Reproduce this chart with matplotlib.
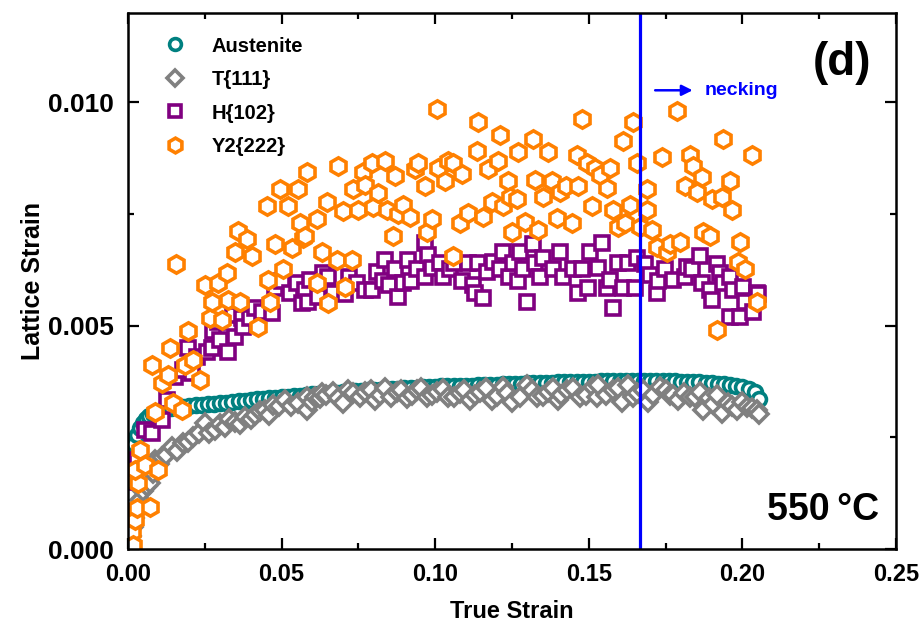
import numpy as np
import matplotlib
matplotlib.use("Agg")
import matplotlib.pyplot as plt
from matplotlib.ticker import MultipleLocator, FormatStrFormatter

plt.rcParams['font.family'] = ['Liberation Sans', 'DejaVu Sans']
plt.rcParams['font.weight'] = 'bold'

# lattice strain values are written in units of 1e-3
austenite_x = [0.0005, 0.001, 0.0015, 0.002, 0.003, 0.004, 0.005, 0.006, 0.007, 0.008, 0.009, 0.010,
               0.012, 0.014, 0.016, 0.018, 0.020, 0.022, 0.024, 0.026, 0.028, 0.030, 0.032, 0.034,
               0.036, 0.038, 0.040, 0.042, 0.044, 0.046, 0.048, 0.050, 0.052, 0.054, 0.056, 0.058,
               0.060, 0.062, 0.064, 0.066, 0.068, 0.070, 0.072, 0.074, 0.076, 0.078, 0.080, 0.082,
               0.084, 0.086, 0.088, 0.090, 0.092, 0.094, 0.096, 0.098, 0.100, 0.102, 0.104, 0.106,
               0.108, 0.110, 0.112, 0.114, 0.116, 0.118, 0.120, 0.122, 0.124, 0.126, 0.128, 0.130,
               0.132, 0.134, 0.136, 0.138, 0.140, 0.142, 0.144, 0.146, 0.148, 0.150, 0.152, 0.154,
               0.156, 0.158, 0.160, 0.162, 0.164, 0.166, 0.168, 0.170, 0.172, 0.174, 0.176, 0.178,
               0.180, 0.182, 0.184, 0.186, 0.188, 0.190, 0.192, 0.194, 0.196, 0.198, 0.200, 0.202,
               0.204, 0.2055]
austenite_y = [1.6, 1.9, 2.15, 2.35, 2.55, 2.7, 2.82, 2.9, 2.97, 3.02, 3.06, 3.1,
               3.13, 3.15, 3.17, 3.19, 3.2, 3.22, 3.22, 3.24, 3.25, 3.27, 3.28, 3.29,
               3.31, 3.32, 3.33, 3.35, 3.36, 3.37, 3.38, 3.4, 3.41, 3.42, 3.43, 3.44,
               3.46, 3.47, 3.48, 3.49, 3.5, 3.51, 3.52, 3.53, 3.54, 3.55, 3.56, 3.56,
               3.57, 3.58, 3.59, 3.6, 3.6, 3.61, 3.62, 3.63, 3.63, 3.64, 3.64, 3.65,
               3.65, 3.66, 3.66, 3.67, 3.67, 3.68, 3.68, 3.69, 3.69, 3.7, 3.7, 3.71,
               3.71, 3.72, 3.72, 3.72, 3.73, 3.73, 3.74, 3.74, 3.75, 3.75, 3.75, 3.76,
               3.76, 3.76, 3.76, 3.77, 3.77, 3.77, 3.77, 3.77, 3.77, 3.76, 3.76, 3.76,
               3.75, 3.75, 3.74, 3.73, 3.72, 3.71, 3.7, 3.69, 3.68, 3.65, 3.62, 3.58,
               3.52, 3.36]

t111_points = [
    (0.0005, 0.1), (0.001, 0.3), (0.0015, 0.5), (0.002, 0.7), (0.003, 0.9), (0.004, 1.1),
    (0.005, 1.3), (0.0062, 1.4), (0.0072, 1.48), (0.008, 1.7), (0.0088, 2.0), (0.010, 1.9),
    (0.011, 2.06), (0.0125, 2.1), (0.0143, 2.29), (0.016, 2.2), (0.0179, 2.38), (0.0195, 2.4),
    (0.0212, 2.51), (0.023, 2.6), (0.025, 2.83), (0.0265, 2.6), (0.0283, 2.67), (0.030, 2.8),
    (0.0316, 2.74), (0.033, 2.9), (0.0348, 2.85), (0.0365, 2.8), (0.0381, 2.96), (0.040, 2.9),
    (0.0413, 3.0), (0.043, 3.1), (0.0446, 3.12), (0.046, 3.0), (0.0472, 3.23), (0.049, 3.2),
    (0.0511, 3.34), (0.053, 3.2), (0.0553, 3.27), (0.0583, 3.12), (0.0583, 3.41), (0.060, 3.3),
    (0.0609, 3.41), (0.0625, 3.39), (0.0632, 3.5), (0.0645, 3.45), (0.0667, 3.52), (0.0685, 3.38),
    (0.070, 3.27), (0.0715, 3.55), (0.0732, 3.5), (0.0755, 3.4), (0.0771, 3.52), (0.079, 3.57),
    (0.0804, 3.34), (0.082, 3.45), (0.0837, 3.61), (0.0855, 3.4), (0.0876, 3.52), (0.089, 3.55),
    (0.0908, 3.39), (0.0925, 3.45), (0.0941, 3.57), (0.0955, 3.6), (0.0973, 3.41), (0.099, 3.45),
    (0.1006, 3.52), (0.1025, 3.58), (0.1042, 3.41), (0.106, 3.4), (0.1081, 3.5), (0.1095, 3.55),
    (0.1113, 3.34), (0.113, 3.45), (0.1146, 3.52), (0.1165, 3.6), (0.1185, 3.34), (0.120, 3.42),
    (0.1221, 3.63), (0.1235, 3.5), (0.125, 3.3), (0.1275, 3.4), (0.1299, 3.68), (0.1315, 3.55),
    (0.1331, 3.41), (0.135, 3.42), (0.1367, 3.52), (0.1385, 3.6), (0.140, 3.34), (0.141, 3.45),
    (0.1429, 3.57), (0.145, 3.6), (0.1471, 3.41), (0.149, 3.45), (0.1514, 3.63), (0.1527, 3.41),
    (0.153, 3.68), (0.1555, 3.45), (0.1579, 3.57), (0.1595, 3.6), (0.1608, 3.3), (0.1628, 3.68),
    (0.1645, 3.4), (0.1657, 3.5), (0.1675, 3.55), (0.1693, 3.3), (0.171, 3.45), (0.1732, 3.63),
    (0.175, 3.55), (0.1764, 3.45), (0.1775, 3.45), (0.179, 3.34), (0.181, 3.5), (0.1829, 3.41),
    (0.1845, 3.4), (0.1862, 3.52), (0.1872, 3.12), (0.189, 3.38), (0.1905, 3.25), (0.1917, 3.45),
    (0.1934, 3.05), (0.1953, 3.27), (0.1965, 3.2), (0.1982, 3.12), (0.200, 3.3), (0.2015, 3.18),
    (0.203, 3.15), (0.2048, 3.12), (0.2055, 3.02),
]

h102_points = [
    (0.0005, 0.6), (0.0013, 1.5), (0.003, 2.0), (0.0055, 2.67), (0.0078, 2.6), (0.011, 2.89),
    (0.0127, 3.34), (0.0153, 3.86), (0.0179, 4.01), (0.0195, 4.51), (0.0208, 3.95), (0.0225, 4.3),
    (0.0257, 4.4), (0.0273, 4.51), (0.0277, 4.87), (0.0293, 5.09), (0.030, 4.69), (0.0326, 4.42),
    (0.0342, 5.25), (0.0348, 4.75), (0.0371, 5.18), (0.0374, 4.96), (0.0397, 5.18), (0.0413, 5.4),
    (0.0436, 5.31), (0.0469, 5.29), (0.0479, 5.85), (0.0501, 5.99), (0.0527, 5.74), (0.055, 5.96),
    (0.0565, 5.5), (0.0576, 5.81), (0.0586, 5.52), (0.0592, 6.03), (0.0618, 5.65), (0.0635, 6.19),
    (0.0651, 6.1), (0.0667, 5.74), (0.0706, 5.7), (0.072, 6.1), (0.0745, 5.96), (0.077, 5.8),
    (0.0794, 5.81), (0.081, 6.2), (0.083, 5.99), (0.0837, 6.48), (0.085, 5.9), (0.0869, 6.26),
    (0.0879, 5.65), (0.0895, 5.96), (0.0911, 6.48), (0.092, 6.0), (0.094, 6.26), (0.0967, 6.86),
    (0.0967, 6.1), (0.0977, 6.59), (0.099, 6.3), (0.1016, 6.41), (0.1025, 6.1), (0.1048, 6.26),
    (0.106, 6.4), (0.1087, 5.99), (0.1107, 6.41), (0.1123, 5.92), (0.113, 5.74), (0.1139, 6.41),
    (0.1156, 5.63), (0.117, 6.2), (0.1188, 6.43), (0.1211, 6.26), (0.1221, 6.64), (0.124, 6.1),
    (0.1253, 6.41), (0.127, 6.0), (0.1276, 6.64), (0.1286, 6.26), (0.1299, 5.52), (0.1318, 6.82),
    (0.1325, 6.41), (0.1341, 6.08), (0.1351, 6.52), (0.1383, 6.26), (0.1406, 6.64), (0.1416, 6.08),
    (0.1449, 6.26), (0.1465, 5.74), (0.1478, 6.26), (0.1497, 5.85), (0.1504, 6.64), (0.153, 6.3),
    (0.1543, 6.86), (0.1559, 5.85), (0.1569, 6.03), (0.1579, 5.4), (0.1595, 6.41), (0.1611, 5.85),
    (0.1628, 6.41), (0.165, 5.85), (0.1657, 6.52), (0.1683, 6.37), (0.1699, 6.14), (0.1722, 5.74),
    (0.1725, 5.99), (0.1748, 6.26), (0.1774, 6.03), (0.1813, 6.1), (0.182, 6.32), (0.1836, 6.26),
    (0.1862, 6.55), (0.1868, 5.96), (0.1895, 5.81), (0.1901, 5.58), (0.1917, 6.37), (0.1927, 6.19),
    (0.1937, 5.96), (0.196, 6.1), (0.196, 5.2), (0.1969, 5.81), (0.1992, 5.2), (0.2002, 5.87),
    (0.2008, 5.52), (0.2035, 5.31), (0.2048, 5.74), (0.205, 5.7),
]

y2_222_points = [
    (0.0013, 0.38), (0.0016, 0.09), (0.0023, 0.65), (0.0029, 0.92), (0.0033, 1.48), (0.0023, 1.77),
    (0.0039, 2.22), (0.0055, 1.88), (0.0072, 0.94), (0.0098, 1.77), (0.0088, 3.07), (0.0078, 4.13),
    (0.011, 3.72), (0.013, 3.9), (0.0137, 4.51), (0.0147, 3.27), (0.0155, 6.37), (0.0176, 3.12),
    (0.0186, 4.13), (0.0195, 4.87), (0.0212, 4.24), (0.0234, 3.79), (0.025, 5.92), (0.0267, 5.18),
    (0.0273, 5.54), (0.0293, 5.96), (0.0306, 5.13), (0.0322, 6.19), (0.0326, 5.58), (0.0348, 6.64),
    (0.0358, 7.11), (0.0365, 5.52), (0.0387, 6.93), (0.0404, 6.55), (0.0423, 4.96), (0.0452, 7.67),
    (0.0456, 6.03), (0.0462, 5.52), (0.0479, 6.82), (0.0495, 8.05), (0.0505, 6.26), (0.0521, 7.67),
    (0.0534, 6.75), (0.0553, 8.05), (0.056, 7.31), (0.057, 6.97), (0.0576, 7.0), (0.0583, 8.43),
    (0.0615, 5.96), (0.0615, 7.38), (0.063, 6.64), (0.0648, 7.78), (0.065, 5.5), (0.068, 6.48),
    (0.0684, 8.57), (0.070, 7.56), (0.0706, 5.87), (0.0729, 6.48), (0.0732, 8.05), (0.0749, 7.6),
    (0.0765, 8.43), (0.0771, 8.16), (0.0794, 8.65), (0.0798, 7.65), (0.0814, 7.98), (0.0837, 8.68),
    (0.0843, 7.6), (0.0863, 7.0), (0.0869, 8.34), (0.0879, 7.49), (0.0895, 7.71), (0.0918, 7.44),
    (0.0934, 8.5), (0.0944, 8.65), (0.0967, 8.12), (0.0973, 7.09), (0.099, 7.38), (0.1006, 9.84),
    (0.101, 8.54), (0.1032, 8.23), (0.1042, 8.68), (0.1058, 8.65), (0.1058, 6.55), (0.1081, 7.31),
    (0.1087, 8.39), (0.1107, 7.53), (0.1136, 8.9), (0.1139, 9.55), (0.1156, 7.44), (0.1172, 8.5),
    (0.1185, 7.76), (0.1204, 8.68), (0.1211, 9.28), (0.1221, 7.67), (0.1237, 8.23), (0.1243, 7.87),
    (0.125, 7.09), (0.1266, 7.83), (0.127, 8.88), (0.1292, 7.33), (0.1319, 9.17), (0.1325, 8.27),
    (0.1335, 7.15), (0.1351, 7.89), (0.1368, 8.88), (0.138, 8.23), (0.1396, 7.42), (0.1406, 8.0),
    (0.1425, 8.12), (0.1445, 7.31), (0.1462, 8.83), (0.1465, 8.12), (0.1478, 9.62), (0.1494, 8.65),
    (0.151, 7.67), (0.152, 8.54), (0.1537, 8.38), (0.1559, 8.09), (0.1569, 8.54), (0.1579, 7.6),
    (0.1595, 7.22), (0.1611, 9.13), (0.1618, 7.31), (0.1634, 7.71), (0.1644, 9.57), (0.1657, 8.65),
    (0.1667, 7.22), (0.169, 8.05), (0.169, 7.6), (0.1706, 7.15), (0.1722, 6.77), (0.1738, 8.77),
    (0.1755, 6.64), (0.1764, 6.82), (0.1787, 9.8), (0.1797, 6.88), (0.1813, 8.12), (0.1829, 8.83),
    (0.1839, 8.57), (0.1852, 8.0), (0.1868, 8.32), (0.1872, 7.09), (0.1895, 7.0), (0.1901, 7.83),
    (0.1917, 4.91), (0.1934, 7.87), (0.1937, 9.17), (0.196, 8.23), (0.1966, 7.6), (0.1986, 6.43),
    (0.1992, 6.88), (0.2008, 6.26), (0.2031, 8.83), (0.2048, 5.52),
]

necking_strain = 0.1667

t111_x, t111_y = np.array(t111_points).T
h102_x, h102_y = np.array(h102_points).T
y2_x, y2_y = np.array(y2_222_points).T

fig = plt.figure(figsize=(9.24, 6.32), dpi=100)
ax = fig.add_axes([0.1385, 0.1313, 0.8312, 0.8481])

style = dict(linestyle='none', markerfacecolor='white', markeredgewidth=2.6)
ax.plot(austenite_x, np.array(austenite_y) * 1e-3, marker='o', markersize=10,
        markeredgecolor='#008080', label='Austenite', **style)
ax.plot(t111_x, t111_y * 1e-3, marker='D', markersize=9, markeredgecolor='#808080',
        label='T{111}', **style)
ax.plot(h102_x, h102_y * 1e-3, marker='s', markersize=10, markeredgecolor='#800080',
        label='H{102}', **style)
ax.plot(y2_x, y2_y * 1e-3, marker='h', markersize=12.5, markeredgecolor='#FF8000',
        label='Y2{222}', **style)

ax.axvline(necking_strain, color='#0000FF', lw=2.3)
ax.annotate('', xy=(necking_strain + 0.018, 0.01027), xytext=(necking_strain + 0.004, 0.01027),
            arrowprops=dict(arrowstyle='-|>', color='#0000FF', lw=1.8, mutation_scale=16))
ax.text(necking_strain + 0.021, 0.01027, 'necking', color='#0000FF', fontsize=14,
        fontweight='bold', va='center', ha='left')

ax.text(0.93, 0.907, '(d)', transform=ax.transAxes, fontsize=33, fontweight='bold',
        ha='center', va='center')
ax.text(0.905, 0.073, '550\u2009\u00b0C', transform=ax.transAxes, fontsize=27, fontweight='bold',
        ha='center', va='center')

ax.set_xlim(0, 0.25)
ax.set_ylim(0, 0.012)
ax.xaxis.set_major_locator(MultipleLocator(0.05))
ax.xaxis.set_minor_locator(MultipleLocator(0.025))
ax.yaxis.set_major_locator(MultipleLocator(0.005))
ax.yaxis.set_minor_locator(MultipleLocator(0.0025))
ax.xaxis.set_major_formatter(FormatStrFormatter('%.2f'))
ax.yaxis.set_major_formatter(FormatStrFormatter('%.3f'))
ax.tick_params(which='both', direction='in', top=True, right=True, width=1.6)
ax.tick_params(which='major', length=8, pad=10)
ax.tick_params(which='minor', length=4.5)
ax.tick_params(axis='x', which='major', labelsize=17)
ax.tick_params(axis='y', which='major', labelsize=19)
for s in ax.spines.values():
    s.set_linewidth(1.8)

ax.set_xlabel('True Strain', fontsize=17, fontweight='bold', labelpad=10)
ax.set_ylabel('Lattice Strain', fontsize=18, fontweight='bold', labelpad=2)

ax.legend(loc='upper left', bbox_to_anchor=(0.025, 0.99), frameon=False, fontsize=14.5,
          markerscale=0.85, handlelength=1.0, handletextpad=1.3, labelspacing=0.72)

fig.savefig('out.png', dpi=100)
